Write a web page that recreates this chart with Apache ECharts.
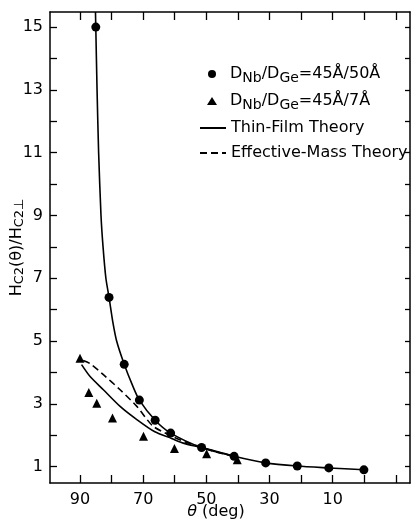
<!DOCTYPE html>
<html><head><meta charset="utf-8">
<script src="https://cdn.jsdelivr.net/npm/echarts@6/dist/echarts.min.js"></script>
<style>html,body{margin:0;padding:0;background:#fff}#c{width:411px;height:523px}</style>
</head><body><div id="c"></div>
<script>
// ---- data ----
const circTheta = [85.0, 80.8, 76.0, 71.2, 66.2, 61.3, 51.5, 41.2, 31.2, 21.2, 11.2, 0.1];
const circH     = [15.0, 6.39, 4.26, 3.12, 2.48, 2.07, 1.61, 1.33, 1.12, 1.02, 0.96, 0.90];
const triTheta  = [90.0, 87.2, 84.7, 79.7, 69.9, 60.1, 49.9, 40.2];
const triH      = [4.45, 3.36, 3.02, 2.55, 1.97, 1.58, 1.41, 1.22];
// thin-film theory, 45/50
const tf1Theta = [85.1, 85.0, 84.6, 84.1, 83.35, 82.7, 81.8, 80.8, 79.6, 78.4, 76.0, 73.5, 71.2, 66.2, 61.3, 51.5, 41.2, 31.2, 21.2, 11.2, 0.1];
const tf1H     = [15.48, 15.0, 13.0, 11.0, 9.0, 8.0, 7.0, 6.39, 5.6, 5.0, 4.26, 3.62, 3.12, 2.48, 2.07, 1.61, 1.33, 1.12, 1.02, 0.96, 0.90];
// thin-film theory, 45/7
const tf2Theta = [89.5, 86.8, 82.6, 77.3, 72.0, 66.3, 61.0, 57.3, 51.9, 46.0, 41.2];
const tf2H     = [4.25, 3.87, 3.45, 2.92, 2.50, 2.11, 1.90, 1.75, 1.62, 1.47, 1.33];
// effective-mass theory, 45/7
const emTheta = [89.0, 86.8, 82.6, 77.3, 72.0, 67.0, 62.0, 57.0, 52.0, 47.0, 41.2];
const emH     = [4.38, 4.28, 3.93, 3.45, 2.92, 2.30, 2.02, 1.80, 1.63, 1.47, 1.33];
const xTicks = [-10, 0, 10, 20, 30, 40, 50, 60, 70, 80, 90];
const xLabels = [10, 30, 50, 70, 90];
const yTicks = [1,2,3,4,5,6,7,8,9,10,11,12,13,14,15];
const yLabels = [1,3,5,7,9,11,13,15];
const nameA = 'DNb/DGe=45Å/50Å';
const nameB = 'DNb/DGe=45Å/7Å';
const nameTF = 'Thin-Film Theory';
const nameEM = 'Effective-Mass Theory';

const zip = (a, b) => a.map((v, i) => [v, b[i]]);
const FONT = 'DejaVu Sans';
const X_MIN = -14.5, X_MAX = 99.5, Y_MIN = 0.48, Y_MAX = 15.48;

const chart = echarts.init(document.getElementById('c'));
const axisLine = {show: true, onZero: false, lineStyle: {color: '#000', width: 1.5}};
const tickStyle = {color: '#000', width: 1.3};
const legendText = {color: '#000', fontFamily: FONT, fontSize: 16};
chart.setOption({
  animation: false,
  backgroundColor: '#fff',
  grid: {left: 50, right: 1, top: 12, bottom: 40, outerBoundsMode: 'none', containLabel: false},
  xAxis: [{
    type: 'value', inverse: true, min: X_MIN, max: X_MAX, position: 'bottom',
    axisLine, splitLine: {show: false},
    axisTick: {show: true, inside: true, length: 8, customValues: xTicks, lineStyle: tickStyle},
    axisLabel: {customValues: xLabels, color: '#000', fontFamily: FONT, fontSize: 16, margin: 9},
    name: '{i|θ} (deg)', nameLocation: 'middle', nameGap: 21, nameMoveOverlap: false,
    nameTextStyle: {color: '#000', fontFamily: FONT, fontSize: 16, padding: [0, 28, 0, 0],
      rich: {i: {fontStyle: 'italic', fontFamily: FONT, fontSize: 16, color: '#000'}}}
  }, {
    type: 'value', inverse: true, min: X_MIN, max: X_MAX, position: 'top',
    axisLine, splitLine: {show: false},
    axisTick: {show: true, inside: true, length: 8, customValues: xTicks, lineStyle: tickStyle},
    axisLabel: {show: false}
  }],
  yAxis: [{
    type: 'value', min: Y_MIN, max: Y_MAX, position: 'left',
    axisLine, splitLine: {show: false},
    axisTick: {show: true, inside: true, length: 7, customValues: yTicks, lineStyle: tickStyle},
    axisLabel: {customValues: yLabels, color: '#000', fontFamily: FONT, fontSize: 16, margin: 7},
    name: '{h|H}{s|C2}{h|(θ)/H}{s|C2⊥}', nameLocation: 'middle', nameGap: 24, nameRotate: 90, nameMoveOverlap: false,
    nameTextStyle: {color: '#000', fontFamily: FONT, fontSize: 16,
      rich: {h: {fontSize: 16, fontFamily: FONT, color: '#000'},
             s: {fontSize: 13, fontFamily: FONT, color: '#000', padding: [5, 0, 0, 0]}}}
  }, {
    type: 'value', min: Y_MIN, max: Y_MAX, position: 'right',
    axisLine, splitLine: {show: false},
    axisTick: {show: true, inside: true, length: 5, customValues: yTicks, lineStyle: tickStyle},
    axisLabel: {show: false}
  }],
  legend: [{
    orient: 'vertical', left: 202, top: 61, itemWidth: 10, itemHeight: 8, itemGap: 8,
    textStyle: Object.assign({}, legendText, {padding: [0, 0, 0, 8],
      rich: {s: {fontSize: 14, fontFamily: FONT, color: '#000', padding: [8, 0, 0, 0]},
             n: {fontSize: 16, fontFamily: FONT, color: '#000'}}}),
    formatter: function (n) {
      if (n === nameA) return '{n|D}{s|Nb}{n|/D}{s|Ge}{n|=45Å/50Å}';
      if (n === nameB) return '{n|D}{s|Nb}{n|/D}{s|Ge}{n|=45Å/7Å}';
      return n;
    },
    data: [{name: nameA, icon: 'circle'}, {name: nameB, icon: 'triangle'}]
  }, {
    orient: 'vertical', left: 194, top: 115, itemWidth: 26, itemHeight: 9, itemGap: 9,
    textStyle: legendText,
    data: [{name: nameTF, itemStyle: {opacity: 0}}, {name: nameEM, itemStyle: {opacity: 0}}]
  }],
  series: [
    {name: nameTF, type: 'line', data: zip(tf1Theta, tf1H), symbol: 'none', smooth: 0.25,
     lineStyle: {color: '#000', width: 1.6}, itemStyle: {color: '#000'}, z: 2},
    {name: nameTF, type: 'line', data: zip(tf2Theta, tf2H), symbol: 'none', smooth: 0.25,
     lineStyle: {color: '#000', width: 1.6}, itemStyle: {color: '#000'}, z: 2},
    {name: nameEM, type: 'line', data: zip(emTheta, emH), symbol: 'none', smooth: 0.25,
     lineStyle: {color: '#000', width: 1.6, type: [7, 4]}, itemStyle: {color: '#000'}, z: 2},
    {name: nameA, type: 'scatter', data: zip(circTheta, circH), symbol: 'circle', symbolSize: 9,
     itemStyle: {color: '#000', opacity: 1}, z: 3},
    {name: nameB, type: 'scatter', data: zip(triTheta, triH), symbol: 'triangle', symbolSize: 9,
     itemStyle: {color: '#000', opacity: 1}, z: 3}
  ]
});
</script></body></html>
